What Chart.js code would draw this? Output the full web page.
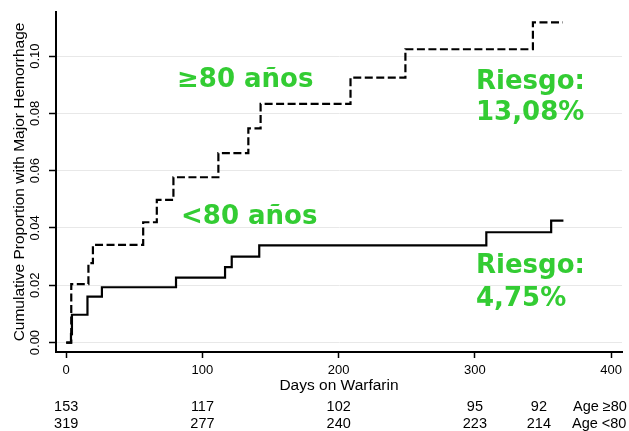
<!DOCTYPE html>
<html>
<head>
<meta charset="utf-8">
<script src="https://cdn.jsdelivr.net/npm/chart.js@4/dist/chart.umd.min.js"></script>
<style>
  html, body { margin: 0; padding: 0; background: #fff; }
  canvas { display: block; }
</style>
</head>
<body>
<canvas id="c" width="629" height="431"></canvas>
<script>
// ---- Data ----
const daysOver80  = [0, 3.7, 16.3, 19.6, 56.5, 66.5, 78.7, 111.7, 133.7, 142.7, 208.7, 249, 342.6, 364.6];
const riskOver80  = [0, 0.0204, 0.0277, 0.0341, 0.042, 0.0498, 0.0577, 0.0661, 0.0748, 0.0833, 0.0925, 0.1024, 0.1118, 0.1118];
const daysUnder80 = [0, 3.5, 4.2, 15.6, 26.2, 80.6, 116.6, 121.5, 141.7, 308.4, 356, 365];
const riskUnder80 = [0, 0.003, 0.0097, 0.016, 0.0193, 0.0227, 0.0263, 0.030, 0.0339, 0.0385, 0.0426, 0.0426];

const xTicks = [0, 100, 200, 300, 400];
const yTicks = [0, 0.02, 0.04, 0.06, 0.08, 0.10];

const atRiskDays    = [0, 100, 200, 300, 347];
const atRiskOver80  = [153, 117, 102, 95, 92];
const atRiskUnder80 = [319, 277, 240, 223, 214];
const atRiskLabels  = ['Age \u226580', 'Age <80'];

const groupLabels = ['\u226580 a\u00f1os', '<80 a\u00f1os'];
const riskTexts = [['Riesgo:', '13,08%'], ['Riesgo:', '4,75%']];

const GREEN = '#33cc33';
const SANS = '"Liberation Sans", Arial, sans-serif';

function toPoints(xs, ys) { return xs.map((x, i) => ({ x: x, y: ys[i] })); }

const overlay = {
  id: 'overlay',
  afterDraw(chart) {
    const ctx = chart.ctx;
    const xs = chart.scales.x;
    ctx.save();
    // number at risk table
    ctx.fillStyle = '#000';
    ctx.font = '14.5px ' + SANS;
    ctx.textBaseline = 'middle';
    ctx.textAlign = 'center';
    atRiskDays.forEach((d, i) => {
      const px = xs.getPixelForValue(d);
      ctx.fillText(String(atRiskOver80[i]), px, 406.5);
      ctx.fillText(String(atRiskUnder80[i]), px, 423.5);
    });
    ctx.textAlign = 'left';
    ctx.font = '14.5px ' + SANS;
    ctx.fillText(atRiskLabels[0], 573, 406.5);
    ctx.fillText(atRiskLabels[1], 572, 423.5);
    // green annotations
    ctx.fillStyle = GREEN;
    ctx.font = 'bold 26px "DejaVu Sans", Verdana, sans-serif';
    ctx.textBaseline = 'alphabetic';
    ctx.fillText(groupLabels[0], 177, 87);
    ctx.fillText(groupLabels[1], 181, 223.5);
    ctx.fillText(riskTexts[0][0], 476, 88.5);
    ctx.fillText(riskTexts[0][1], 476, 120);
    ctx.fillText(riskTexts[1][0], 476, 273);
    ctx.fillText(riskTexts[1][1], 476, 306);
    ctx.restore();
  }
};

new Chart(document.getElementById('c'), {
  type: 'scatter',
  data: {
    datasets: [
      {
        label: 'Age \u226580',
        data: toPoints(daysOver80, riskOver80),
        showLine: true,
        stepped: true,
        borderColor: '#000',
        borderWidth: 2.2,
        borderDash: [8, 3.5],
        pointRadius: 0,
        fill: false
      },
      {
        label: 'Age <80',
        data: toPoints(daysUnder80, riskUnder80),
        showLine: true,
        stepped: true,
        borderColor: '#000',
        borderWidth: 2.2,
        pointRadius: 0,
        fill: false
      }
    ]
  },
  options: {
    responsive: false,
    animation: false,
    devicePixelRatio: 1,
    layout: { padding: { left: 0, top: 12, right: 7, bottom: 0 } },
    plugins: {
      legend: { display: false },
      tooltip: { enabled: false }
    },
    scales: {
      x: {
        type: 'linear',
        min: -7.5,
        max: 408,
        afterFit(scale) { scale.height = 79; },
        afterBuildTicks(scale) { scale.ticks = xTicks.map(v => ({ value: v })); },
        grid: {
          drawOnChartArea: false,
          drawTicks: true,
          tickLength: 6,
          tickColor: '#000',
          tickWidth: 1.5
        },
        border: { display: true, color: '#000', width: 2 },
        ticks: {
          color: '#000',
          font: { family: SANS, size: 13 },
          padding: 4.7,
          maxRotation: 0,
          minRotation: 0,
          callback: v => String(v)
        },
        title: {
          display: true,
          text: 'Days on Warfarin',
          color: '#000',
          font: { family: SANS, size: 15.5 },
          padding: { top: 0, bottom: 36 }
        }
      },
      y: {
        type: 'linear',
        min: -0.0033,
        max: 0.1154,
        afterFit(scale) { scale.width = 56; },
        afterBuildTicks(scale) { scale.ticks = yTicks.map(v => ({ value: v })); },
        grid: {
          color: '#e8e8e8',
          lineWidth: 1,
          drawTicks: true,
          tickLength: 7,
          tickColor: '#000',
          tickWidth: 1.5
        },
        border: { display: true, color: '#000', width: 2 },
        ticks: {
          color: '#000',
          font: { family: SANS, size: 13 },
          minRotation: 90,
          maxRotation: 90,
          crossAlign: 'center',
          padding: 1,
          callback: v => Number(v).toFixed(2)
        },
        title: {
          display: true,
          text: 'Cumulative Proportion with Major Hemorrhage',
          color: '#000',
          font: { family: SANS, size: 15.5 },
          padding: { top: 10, bottom: 0 }
        }
      }
    }
  },
  plugins: [overlay]
});
</script>
</body>
</html>
